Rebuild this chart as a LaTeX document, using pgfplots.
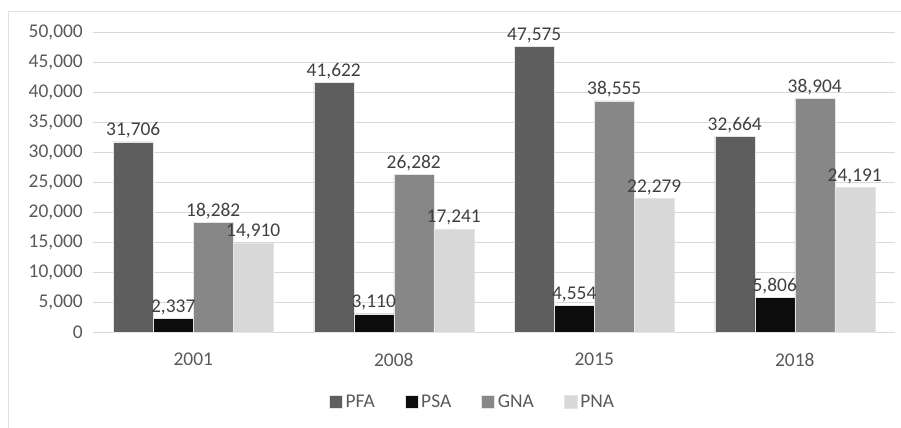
\documentclass[border=0pt]{standalone}
\usepackage{pgfplots}
\pgfplotsset{compat=1.18}
\usepackage{fontspec}
\setmainfont{Carlito}
\definecolor{pfa}{HTML}{5E5E5E}
\definecolor{psa}{HTML}{0C0C0C}
\definecolor{gna}{HTML}{878787}
\definecolor{pna}{HTML}{D8D8D8}
\definecolor{axtext}{HTML}{595959}
\definecolor{lbltext}{HTML}{404040}
\definecolor{gridc}{HTML}{D9D9D9}
\begin{document}
\begin{tikzpicture}
\path[use as bounding box] (0,0) rectangle (901bp,428bp);
\draw[black!12, line width=0.8bp] (8bp,0) -- (8bp,417bp) -- (901bp,417bp);
\begin{axis}[
    at={(93bp,95.5bp)}, anchor=south west,
    scale only axis,
    width=802bp, height=300.5bp,
    ybar=0pt,
    bar width=40bp,
    xmin=-0.5, xmax=3.5,
    ymin=0, ymax=50000,
    ytick distance=5000,
    xtick=data,
    xticklabels={2001,2008,2015,2018},
    axis line style={draw=none},
    tick style={draw=none},
    ymajorgrids,
    grid style={gridc, line width=0.8bp},
    font=\fontsize{19.5}{23}\selectfont,
    ticklabel style={text=axtext},
    yticklabel style={anchor=east, inner sep=0pt, xshift=-10bp},
    xticklabel style={anchor=north, inner sep=0pt, yshift=-16bp},
    /pgf/number format/.cd, fixed, precision=0, 1000 sep={,}, assume math mode=true,
    /pgfplots/.cd,
    scaled y ticks=false,
    nodes near coords,
    every node near coord/.append style={text=lbltext, inner sep=0pt, anchor=base, yshift=6bp,
        /pgf/number format/fixed, /pgf/number format/1000 sep={,}, /pgf/number format/assume math mode=true},
    legend style={at={(0.474,-0.231)}, anchor=center, draw=none, fill=none,
        legend columns=-1, text=axtext,
        nodes={inner sep=3bp},
        /tikz/every even column/.append style={column sep=27bp}},
    legend image code/.code={\fill[#1] (0bp,-6.5bp) rectangle (13bp,6.5bp);},
    legend cell align=left,
]
\addplot[fill=pfa, draw=black!10, line width=0.5bp] coordinates {(0,31706) (1,41622) (2,47575) (3,32664)};
\addplot[fill=psa, draw=black!10, line width=0.5bp] coordinates {(0,2337) (1,3110) (2,4554) (3,5806)};
\addplot[fill=gna, draw=black!10, line width=0.5bp] coordinates {(0,18282) (1,26282) (2,38555) (3,38904)};
\addplot[fill=pna, draw=black!10, line width=0.5bp] coordinates {(0,14910) (1,17241) (2,22279) (3,24191)};
\legend{PFA,PSA,GNA,PNA}
\end{axis}
\end{tikzpicture}
\end{document}
